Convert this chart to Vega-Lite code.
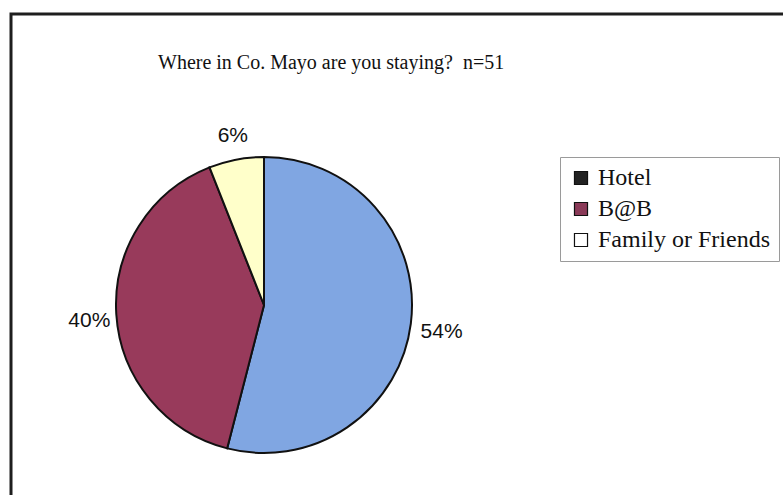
{
  "$schema": "https://vega.github.io/schema/vega-lite/v6.json",
  "autosize": "none",
  "width": 778,
  "height": 487,
  "padding": {"left": 11, "top": 14, "right": 0, "bottom": 0},
  "background": "white",
  "view": {"stroke": "#1e1e1e", "strokeWidth": 3, "fill": "white"},
  "config": {
    "font": "Liberation Serif"
  },
  "title": {
    "text": "Where in Co. Mayo are you staying?\u00a0 n=51",
    "anchor": "start",
    "frame": "group",
    "orient": "top",
    "offset": -75,
    "dx": 147,
    "baseline": "alphabetic",
    "font": "Liberation Serif",
    "fontSize": 20,
    "fontWeight": "normal",
    "color": "#111"
  },
  "data": {
    "values": [
      {"place": "Hotel", "pct": 54, "order": 1, "label": "54%"},
      {"place": "B@B", "pct": 40, "order": 2, "label": "40%"},
      {"place": "Family or Friends", "pct": 6, "order": 3, "label": "6%"}
    ]
  },
  "layer": [
    {
      "mark": {"type": "arc", "x": 253, "y": 291, "radius": 148, "stroke": "#111", "strokeWidth": 2},
      "encoding": {
        "theta": {"field": "pct", "type": "quantitative", "stack": true},
        "order": {"field": "order", "type": "quantitative"},
        "fill": {
          "field": "place", "type": "nominal",
          "scale": {"domain": ["B@B", "Family or Friends", "Hotel"], "range": ["#983a5b", "#ffffca", "#80a6e2"]},
          "legend": null
        }
      }
    },
    {
      "mark": {"type": "text", "x": 255, "y": 296, "radius": 177, "font": "Liberation Sans", "fontSize": 21, "color": "#111"},
      "encoding": {
        "theta": {"field": "pct", "type": "quantitative", "stack": true},
        "order": {"field": "order", "type": "quantitative"},
        "text": {"field": "label", "type": "nominal"}
      }
    },
    {
      "mark": {"type": "point", "filled": true, "opacity": 0, "size": 0},
      "encoding": {
        "color": {
          "field": "place", "type": "nominal",
          "scale": {"domain": ["Hotel", "B@B", "Family or Friends"], "range": ["#222222", "#8a3a58", "#ffffff"]},
          "legend": {
            "title": null,
            "orient": "none",
            "legendX": 549,
            "legendY": 143,
            "symbolType": "square",
            "symbolSize": 170,
            "symbolOpacity": 1,
            "symbolStrokeColor": "#111111",
            "symbolStrokeWidth": 1.2,
            "labelFont": "Liberation Serif",
            "labelFontSize": 24,
            "labelLimit": 400,
            "labelColor": "#111",
            "labelOffset": 5,
            "rowPadding": 7,
            "padding": 9,
            "strokeColor": "#9a9a9a",
            "fillColor": "white"
          }
        }
      }
    }
  ]
}
